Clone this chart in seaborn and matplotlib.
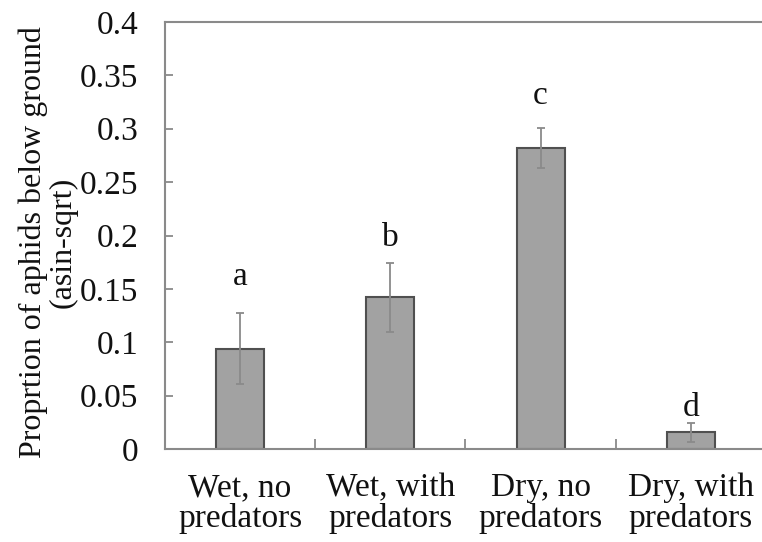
import matplotlib
matplotlib.use("Agg")
import matplotlib.pyplot as plt
import seaborn as sns
import pandas as pd
from matplotlib.ticker import FuncFormatter, MultipleLocator, FixedLocator

categories = ["Wet, no\npredators", "Wet, with\npredators", "Dry, no\npredators", "Dry, with\npredators"]
means = [0.094, 0.142, 0.282, 0.0155]
errors = [0.033, 0.032, 0.019, 0.0085]
letters = ["a", "b", "c", "d"]
letter_y = [0.1536, 0.190, 0.323, 0.031]

sns.set_style("white")
plt.rcParams['font.family'] = ['Liberation Serif', 'DejaVu Serif']

FS = 24

df = pd.DataFrame({"cat": categories, "mean": means})

fig = plt.figure(figsize=(7.62, 5.42), dpi=100)
ax = fig.add_axes([165/762, 93/542, 601/762, 427/542])

sns.barplot(data=df, x="cat", y="mean", ax=ax, color="#a2a2a2", width=0.32,
            edgecolor="#505050", linewidth=1.5, errorbar=None, saturation=1)
ax.errorbar(x=list(range(len(categories))), y=means, yerr=errors, fmt="none",
            ecolor="#8a8a8a", elinewidth=1.3, capsize=3, capthick=1.3)

for i, (t, yy) in enumerate(zip(letters, letter_y)):
    ax.text(i, yy, t, ha="center", va="baseline", fontsize=FS, color="#111111")

ax.set_xlim(-0.5, 3.5)
ax.set_ylim(0, 0.4)
ax.yaxis.set_major_locator(MultipleLocator(0.05))
ax.yaxis.set_major_formatter(FuncFormatter(lambda v, p: f"{v:.2f}".rstrip("0").rstrip(".") if v != 0 else "0"))
ax.xaxis.set_minor_locator(FixedLocator([0.5, 1.5, 2.5]))
ax.tick_params(axis="x", which="major", length=0, pad=17, labelsize=FS, colors="#111111")
ax.tick_params(axis="x", which="minor", direction="in", length=7, width=1.3, color="#8a8a8a", bottom=True)
ax.tick_params(axis="y", which="major", direction="in", length=6, width=1.3, color="#8a8a8a",
               pad=19, labelsize=FS, labelcolor="#111111", left=True)
for lbl in ax.get_xticklabels():
    lbl.set_linespacing(1.0)

ax.set_xlabel("")
ax.set_ylabel("Proprtion of aphids below ground\n(asin-sqrt)", fontsize=23, color="#111111",
              linespacing=1.0)
ax.yaxis.set_label_coords(-0.146, 0.485)

for s in ["left", "bottom", "top"]:
    ax.spines[s].set_visible(True)
    ax.spines[s].set_color("#8a8a8a")
    ax.spines[s].set_linewidth(1.5)
ax.spines["right"].set_visible(False)

fig.savefig("out.png", dpi=100)
